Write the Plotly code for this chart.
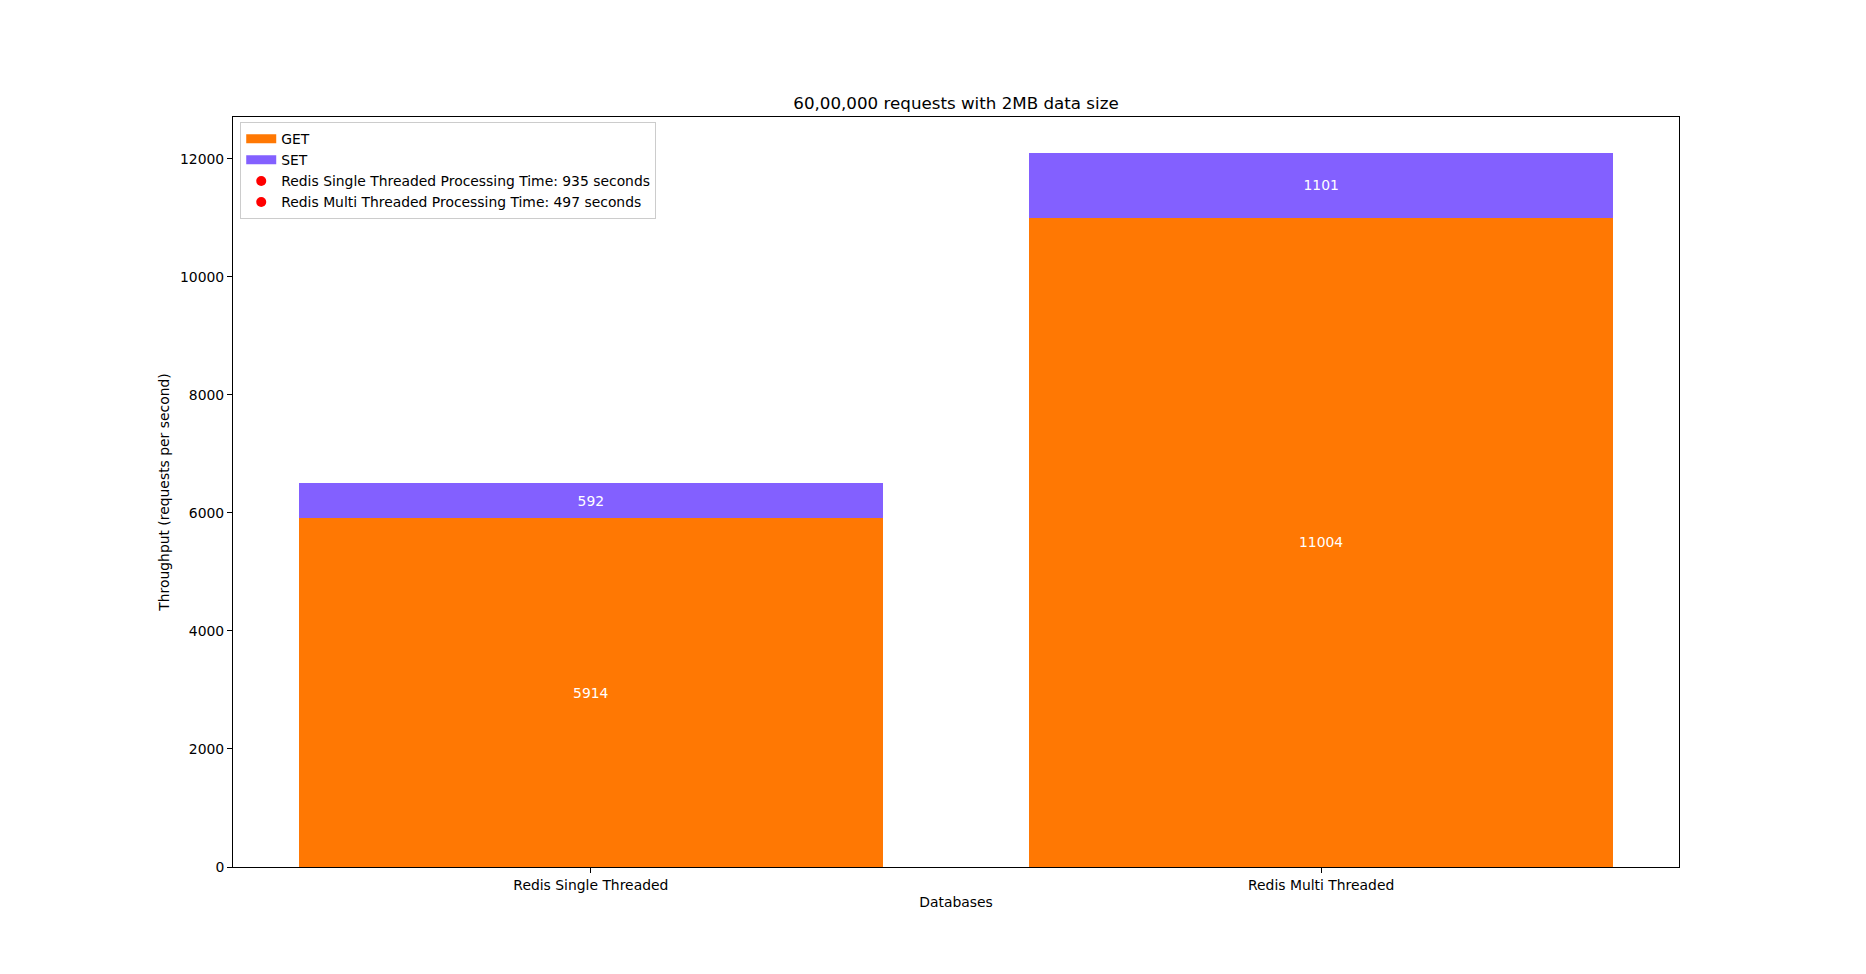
import plotly.graph_objects as go

categories = ["Redis Single Threaded", "Redis Multi Threaded"]
get_values = [5914, 11004]
set_values = [592, 1101]
time_labels = [
    "Redis Single Threaded Processing Time: 935 seconds",
    "Redis Multi Threaded Processing Time: 497 seconds",
]

W, H = 1866, 974
FONT = "DejaVu Sans"
FS = 13.9
GET_COLOR = "#FF7803"
SET_COLOR = "#8360FF"

fig = go.Figure()
fig.add_trace(go.Bar(
    x=categories, y=get_values, name="GET", showlegend=False,
    marker=dict(color=GET_COLOR, line=dict(width=0)),
    text=[str(v) for v in get_values], textposition="inside", insidetextanchor="middle",
    textangle=0, constraintext="none", textfont=dict(color="white", size=FS, family=FONT),
))
fig.add_trace(go.Bar(
    x=categories, y=set_values, name="SET", showlegend=False,
    marker=dict(color=SET_COLOR, line=dict(width=0)),
    text=[str(v) for v in set_values], textposition="inside", insidetextanchor="middle",
    textangle=0, constraintext="none", textfont=dict(color="white", size=FS, family=FONT),
))
# legend entries (patch-like swatches for the bars, red dots for the timings)
for nm, col in [("GET", GET_COLOR), ("SET", SET_COLOR)]:
    fig.add_trace(go.Scatter(
        x=[None], y=[None], mode="lines", name=nm,
        line=dict(color=col, width=9),
    ))
for lbl in time_labels:
    fig.add_trace(go.Scatter(
        x=[None], y=[None], mode="markers", name=lbl,
        marker=dict(color="red", size=10),
    ))

# browser body margin of 8px is compensated in the margins below
fig.update_layout(
    width=W, height=H,
    barmode="stack", bargap=0.2,
    plot_bgcolor="white", paper_bgcolor="white",
    font=dict(family=FONT, size=FS, color="black"),
    margin=dict(l=225, r=195, t=109, b=115, autoexpand=False),
    title=dict(text="60,00,000 requests with 2MB data size", x=0.5, xref="paper",
               xanchor="center", y=1 - 95 / H, yanchor="middle", yref="container",
               font=dict(size=16.7, family=FONT, color="black")),
    showlegend=True,
    legend=dict(x=0.005, y=0.993, xanchor="left", yanchor="top",
                bgcolor="rgba(255,255,255,0.8)", bordercolor="#cccccc", borderwidth=1,
                font=dict(size=FS, family=FONT), tracegroupgap=0, itemwidth=30,
                traceorder="normal"),
)
fig.update_xaxes(
    range=[-0.49, 1.49], showline=True, linecolor="black", linewidth=1, mirror=True,
    ticks="outside", ticklen=5, tickcolor="black", showgrid=False,
    title=dict(text="Databases", standoff=5, font=dict(size=FS)),
)
fig.update_yaxes(
    range=[0, 12710], showline=True, linecolor="black", linewidth=1, mirror=True,
    ticks="outside", ticklen=5, tickcolor="black", showgrid=False, zeroline=False,
    tickvals=[0, 2000, 4000, 6000, 8000, 10000, 12000],
    ticktext=["0", "2000", "4000", "6000", "8000", "10000", "12000"],
    title=dict(text="Throughput (requests per second)", standoff=7, font=dict(size=FS)),
)

fig.write_html("out.html")
